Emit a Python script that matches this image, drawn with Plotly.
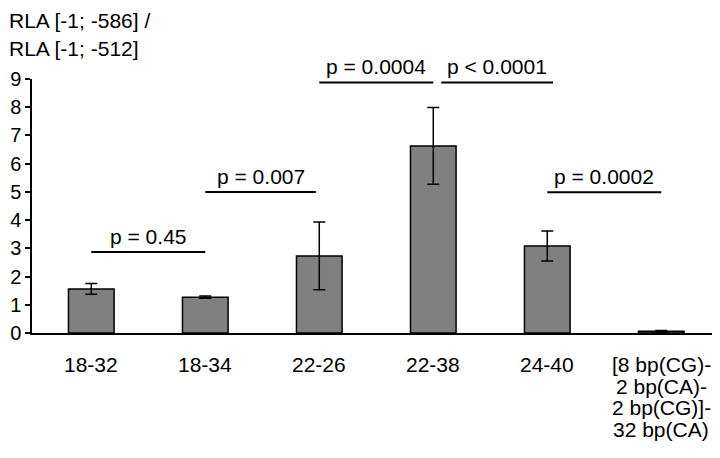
import plotly.graph_objects as go

# each category label as its printed lines
CATEGORY_LINES = [
    ["18-32"],
    ["18-34"],
    ["22-26"],
    ["22-38"],
    ["24-40"],
    ["[8 bp(CG)-", "2 bp(CA)-", "2 bp(CG)]-", "32 bp(CA)"],
]
RLA_RATIO = [1.56, 1.27, 2.73, 6.63, 3.08, 0.06]
RLA_ERROR = [0.19, 0.04, 1.20, 1.36, 0.53, 0.03]

# pairwise comparisons: (left bar, right bar), label, bracket height
COMPARE_LEFT = [0, 1, 2, 3, 4]
COMPARE_RIGHT = [1, 2, 3, 4, 5]
COMPARE_LABELS = ["p = 0.45", "p = 0.007", "p = 0.0004", "p < 0.0001", "p = 0.0002"]
COMPARE_HEIGHT = [2.87, 5.0, 8.88, 8.88, 4.99]

Y_TITLE_LINES = ["RLA [-1; -586] /", "RLA [-1; -512]"]

FONT = "Liberation Sans, Arial, sans-serif"
FONT_SIZE = 21
# the page body adds an 8px margin, so the figure is drawn 8px smaller
MARGIN = {"l": 24, "r": 4, "t": 71, "b": 125}
PLOT_HEIGHT = 254
LABEL_CENTER = 31.5
LABEL_LINE_STEP = 21.7
TITLE_TOP = 13
TITLE_LINE_STEP = 27

x_pos = list(range(len(CATEGORY_LINES)))

fig = go.Figure()
fig.add_trace(
    go.Bar(
        x=x_pos,
        y=RLA_RATIO,
        width=0.4,
        marker={"color": "#808080", "line": {"color": "black", "width": 1.5}},
        error_y={
            "type": "data",
            "array": RLA_ERROR,
            "visible": True,
            "color": "black",
            "thickness": 1.5,
            "width": 6,
        },
        showlegend=False,
    )
)

# keep the two brackets meeting above 22-38 from touching
left_shift = [0.0, 0.0, 0.0, 0.07, 0.0]
right_shift = [0.0, -0.03, 0.0, 0.05, 0.0]
for left, right, label, height, ls, rs in zip(
    COMPARE_LEFT, COMPARE_RIGHT, COMPARE_LABELS, COMPARE_HEIGHT, left_shift, right_shift
):
    x0 = left + ls
    x1 = right + rs
    fig.add_shape(
        type="line",
        x0=x0,
        x1=x1,
        y0=height,
        y1=height,
        xref="x",
        yref="y",
        line={"color": "black", "width": 2},
    )
    fig.add_annotation(
        x=(x0 + x1) / 2,
        y=height,
        text=label,
        showarrow=False,
        yanchor="bottom",
        yshift=2,
        font={"family": FONT, "size": FONT_SIZE, "color": "black"},
    )

# category labels, written line by line for a tight line spacing
for pos, lines in zip(x_pos, CATEGORY_LINES):
    for k, line in enumerate(lines):
        fig.add_annotation(
            x=pos,
            y=0,
            xref="x",
            yref="y",
            text=line,
            showarrow=False,
            yanchor="middle",
            yshift=-(LABEL_CENTER + LABEL_LINE_STEP * k),
            font={"family": FONT, "size": FONT_SIZE, "color": "black"},
        )

for i, line in enumerate(Y_TITLE_LINES):
    fig.add_annotation(
        x=0,
        y=1 + (MARGIN["t"] - TITLE_TOP - TITLE_LINE_STEP * i) / PLOT_HEIGHT,
        xref="paper",
        yref="paper",
        xanchor="left",
        yanchor="middle",
        xshift=-MARGIN["l"] - 1,
        text=line,
        showarrow=False,
        font={"family": FONT, "size": FONT_SIZE, "color": "black"},
    )

fig.update_layout(
    width=712,
    height=450,
    margin=MARGIN,
    plot_bgcolor="white",
    paper_bgcolor="white",
    font={"family": FONT, "size": FONT_SIZE, "color": "black"},
)
fig.update_xaxes(
    range=[-0.52, 5.48],
    tickvals=x_pos,
    showticklabels=False,
    showline=True,
    linecolor="black",
    linewidth=1.5,
    ticks="",
    showgrid=False,
    zeroline=False,
    automargin=False,
)
fig.update_yaxes(
    range=[0, 9],
    dtick=1,
    showline=True,
    linecolor="black",
    linewidth=1.5,
    ticks="outside",
    ticklen=5,
    tickwidth=1.5,
    tickcolor="black",
    tickfont={"size": 20},
    showgrid=False,
    zeroline=False,
    automargin=False,
)

fig.write_html("out.html")
